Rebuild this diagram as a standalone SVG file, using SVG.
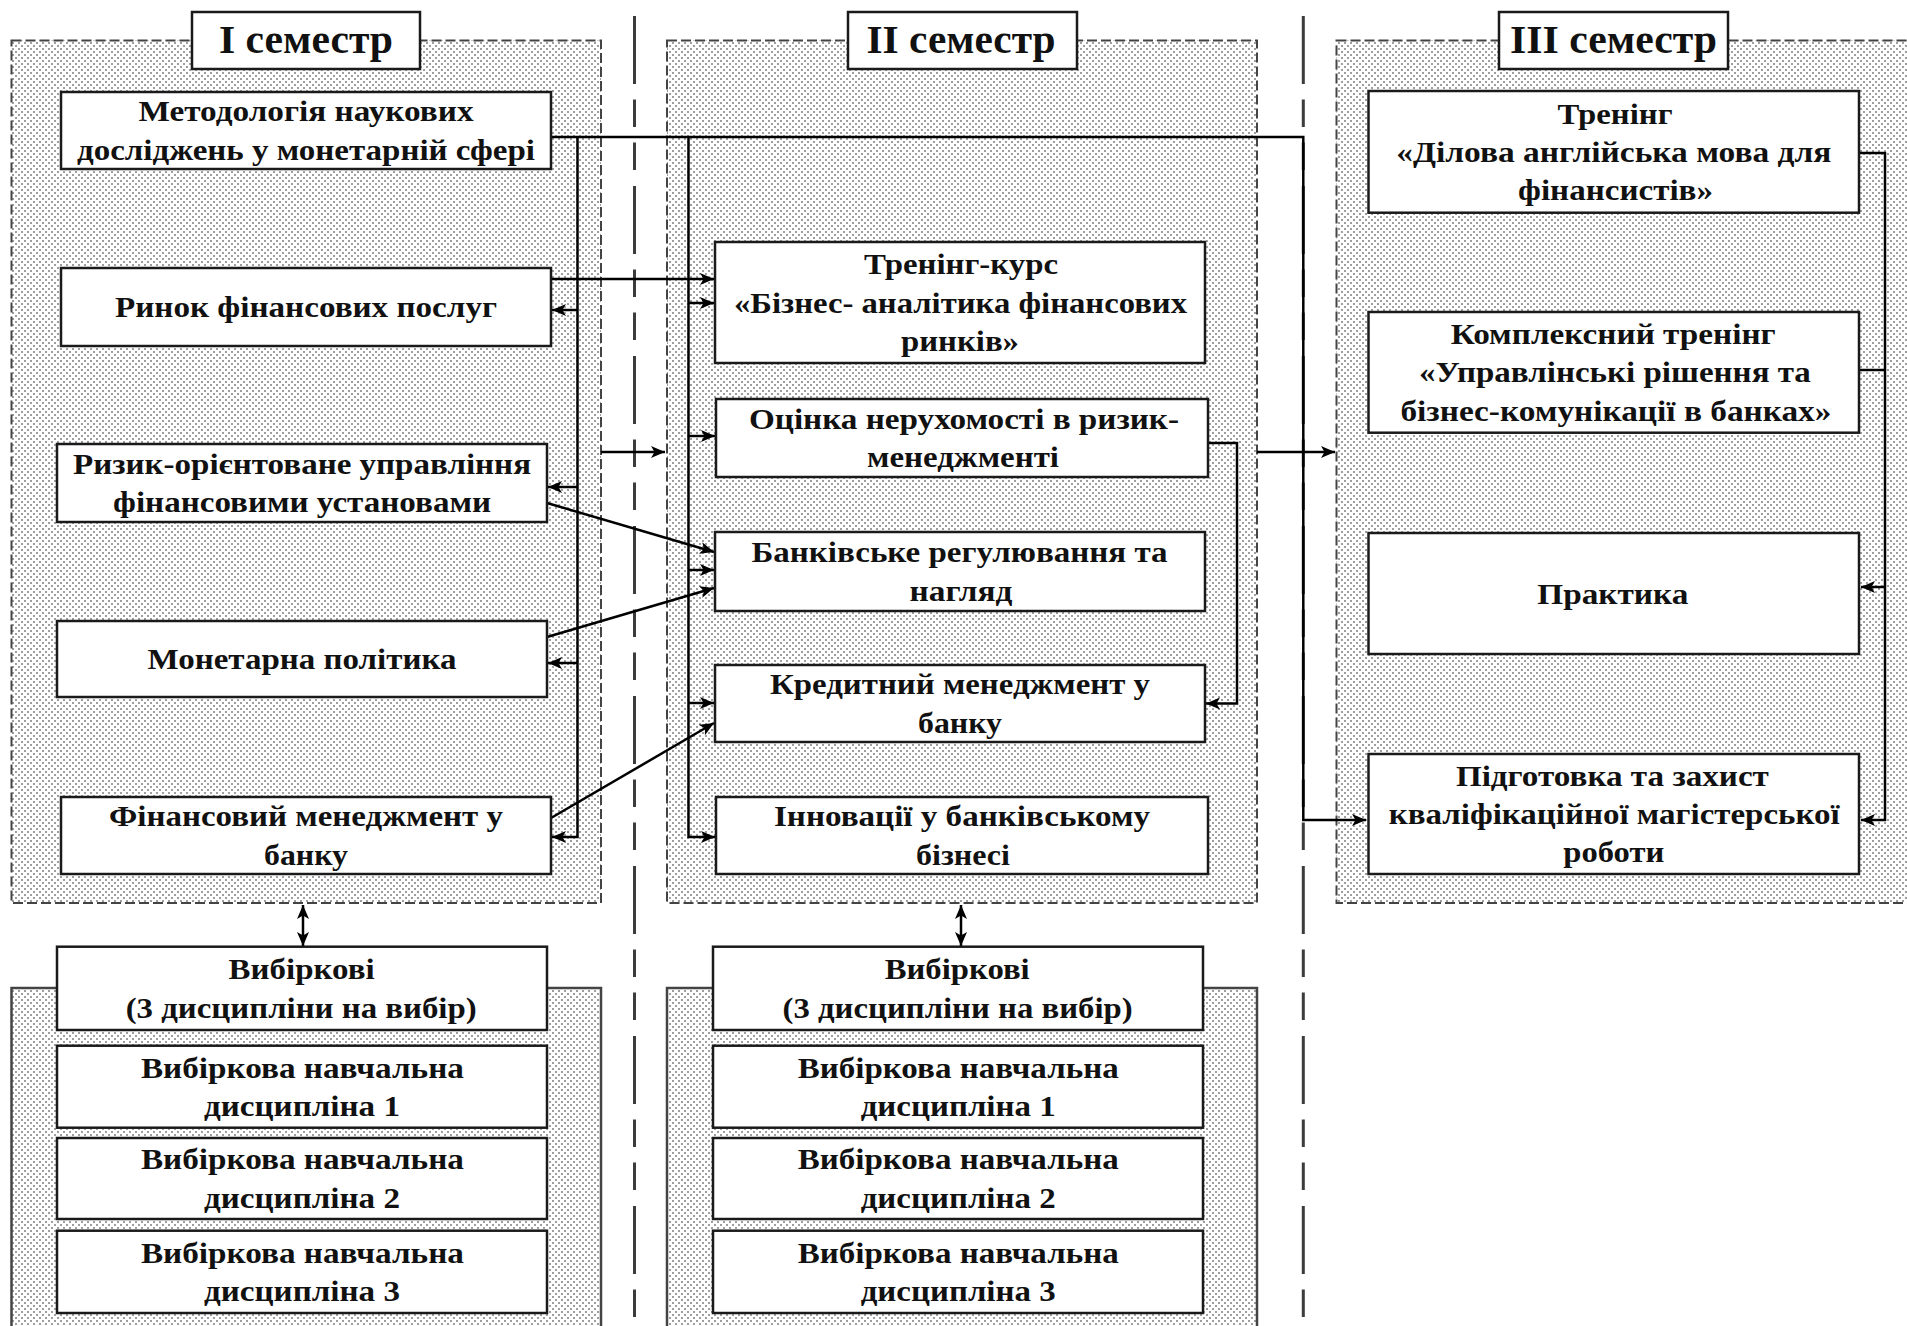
<svg xmlns="http://www.w3.org/2000/svg" width="1907" height="1326" viewBox="0 0 1907 1326">
<defs>
<pattern id="dots" width="6" height="6" patternUnits="userSpaceOnUse">
<rect width="6" height="6" fill="#fff"/>
<rect x="0.2" y="0.2" width="1.6" height="1.6" fill="#6a6a6a"/>
<rect x="3.2" y="3.2" width="1.6" height="1.6" fill="#6a6a6a"/>
</pattern>
<marker id="ah" markerUnits="userSpaceOnUse" markerWidth="16" markerHeight="14" refX="14" refY="6" orient="auto-start-reverse">
<path d="M0,0 L14,6 L0,12 L3.5,6 Z" fill="#000"/>
</marker>
<style>
.panel{fill:url(#dots);stroke:#444;stroke-width:2;stroke-dasharray:10 4}
.psolid{fill:url(#dots);stroke:#444;stroke-width:2.5}
.box{fill:#fff;stroke:#1a1a1a;stroke-width:2.5}
.t{font-family:'Liberation Serif','Times New Roman',serif;font-weight:bold;font-size:30px;fill:#111;text-anchor:middle}
.title{font-size:41px}
.sep{stroke:#3c3c3c;stroke-width:3;stroke-dasharray:68 15.5 27.5 15.5 27.5 16;fill:none}
.c{stroke:#000;stroke-width:2.5;fill:none;marker-end:url(#ah)}
.ln{stroke:#000;stroke-width:2.5;fill:none}
.dbl{stroke:#000;stroke-width:2.5;fill:none;marker-start:url(#ah);marker-end:url(#ah)}
</style>
</defs>
<rect width="1907" height="1326" fill="#fff"/>

<g id="panels">
<rect class="panel" x="11.5" y="40.5" width="589.5" height="862.5"/>
<rect class="panel" x="667" y="40.5" width="590" height="862.5"/>
<rect class="panel" x="1336.5" y="40.5" width="580" height="862.5"/>
<rect class="psolid" x="11.5" y="988" width="589.5" height="350"/>
<rect class="psolid" x="667" y="988" width="590" height="350"/>
</g>

<g id="separators">
<line class="sep" x1="634.5" y1="16" x2="634.5" y2="1326"/>
<line class="sep" x1="1303.3" y1="16" x2="1303.3" y2="1326"/>
</g>

<g id="connectors">
<path class="c" d="M551,137 H1303.3 V820 H1366"/>
<path class="c" d="M577.5,137 V837 H552"/>
<path class="c" d="M577.5,310 H552"/>
<path class="c" d="M577.5,487 H548"/>
<path class="c" d="M577.5,663 H548"/>
<path class="c" d="M688.5,137 V837 H715"/>
<path class="c" d="M688.5,303 H714"/>
<path class="c" d="M688.5,436 H715"/>
<path class="c" d="M688.5,570 H714"/>
<path class="c" d="M688.5,703 H714"/>
<path class="c" d="M551,279 H714"/>
<path class="c" d="M601,452 H665"/>
<path class="c" d="M1257,452 H1335"/>
<path class="c" d="M547,503 L714,552"/>
<path class="c" d="M547,637 L714,588"/>
<path class="c" d="M551,818 L714,723"/>
<path class="c" d="M1207.6,443 H1237 V703.5 H1206"/>
<path class="c" d="M1859,153 H1885 V820 H1861"/>
<path class="ln" d="M1859,370 H1885"/>
<path class="c" d="M1885,587 H1861"/>
<path class="dbl" d="M303,905 V946"/>
<path class="dbl" d="M961,905 V946"/>
</g>

<g id="title1"><rect class="box" x="192" y="12" width="228" height="57"/><text class="t title" x="306" y="53" textLength="174" lengthAdjust="spacingAndGlyphs">I семестр</text></g>
<g id="title2"><rect class="box" x="848" y="12" width="229" height="57"/><text class="t title" x="961" y="53" textLength="189" lengthAdjust="spacingAndGlyphs">II семестр</text></g>
<g id="title3"><rect class="box" x="1499" y="12" width="229" height="57"/><text class="t title" x="1613.5" y="53" textLength="207" lengthAdjust="spacingAndGlyphs">III семестр</text></g>

<g id="metod"><rect class="box" x="61" y="92" width="490" height="77"/>
<text class="t" x="306" y="121.4" textLength="335" lengthAdjust="spacingAndGlyphs">Методологія наукових</text>
<text class="t" x="306" y="159.7" textLength="458" lengthAdjust="spacingAndGlyphs">досліджень у монетарній сфері</text></g>

<g id="rynok"><rect class="box" x="61" y="268" width="490" height="78"/>
<text class="t" x="306" y="317" textLength="382" lengthAdjust="spacingAndGlyphs">Ринок фінансових послуг</text></g>

<g id="ryzyk"><rect class="box" x="57" y="444" width="490" height="78"/>
<text class="t" x="302" y="473.9" textLength="458" lengthAdjust="spacingAndGlyphs">Ризик-орієнтоване управління</text>
<text class="t" x="302" y="512.2" textLength="378" lengthAdjust="spacingAndGlyphs">фінансовими установами</text></g>

<g id="monet"><rect class="box" x="57" y="621" width="490" height="76"/>
<text class="t" x="302" y="669" textLength="309" lengthAdjust="spacingAndGlyphs">Монетарна політика</text></g>

<g id="finman"><rect class="box" x="61" y="797" width="490" height="77"/>
<text class="t" x="306" y="826.4" textLength="394" lengthAdjust="spacingAndGlyphs">Фінансовий менеджмент у</text>
<text class="t" x="306" y="864.7" textLength="84" lengthAdjust="spacingAndGlyphs">банку</text></g>

<g id="trening_kurs"><rect class="box" x="715" y="242" width="490" height="121"/>
<text class="t" x="961" y="274.2" textLength="194" lengthAdjust="spacingAndGlyphs">Тренінг-курс</text>
<text class="t" x="960.5" y="312.5" textLength="453" lengthAdjust="spacingAndGlyphs">«Бізнес- аналітика фінансових</text>
<text class="t" x="960" y="350.8" textLength="118" lengthAdjust="spacingAndGlyphs">ринків»</text></g>

<g id="ocinka"><rect class="box" x="716" y="399" width="492" height="78"/>
<text class="t" x="964" y="428.9" textLength="430" lengthAdjust="spacingAndGlyphs">Оцінка нерухомості в ризик-</text>
<text class="t" x="963" y="467.2" textLength="192" lengthAdjust="spacingAndGlyphs">менеджменті</text></g>

<g id="bankreg"><rect class="box" x="715" y="532" width="490" height="79"/>
<text class="t" x="959.5" y="562.2" textLength="416" lengthAdjust="spacingAndGlyphs">Банківське регулювання та</text>
<text class="t" x="961" y="600.5" textLength="103" lengthAdjust="spacingAndGlyphs">нагляд</text></g>

<g id="kredyt"><rect class="box" x="715" y="665" width="490" height="77"/>
<text class="t" x="960" y="694.4" textLength="380" lengthAdjust="spacingAndGlyphs">Кредитний менеджмент у</text>
<text class="t" x="960" y="732.7" textLength="84" lengthAdjust="spacingAndGlyphs">банку</text></g>

<g id="innov"><rect class="box" x="716" y="797" width="492" height="77"/>
<text class="t" x="962" y="826.4" textLength="376" lengthAdjust="spacingAndGlyphs">Інновації у банківському</text>
<text class="t" x="963" y="864.7" textLength="94" lengthAdjust="spacingAndGlyphs">бізнесі</text></g>

<g id="trening_en"><rect class="box" x="1368.5" y="91" width="490.5" height="121.7"/>
<text class="t" x="1615" y="123.6" textLength="115" lengthAdjust="spacingAndGlyphs">Тренінг</text>
<text class="t" x="1613.8" y="161.9" textLength="435" lengthAdjust="spacingAndGlyphs">«Ділова англійська мова для</text>
<text class="t" x="1615.5" y="200.2" textLength="195" lengthAdjust="spacingAndGlyphs">фінансистів»</text></g>

<g id="kompl"><rect class="box" x="1368.5" y="312" width="490.5" height="120.7"/>
<text class="t" x="1613.2" y="344" textLength="325" lengthAdjust="spacingAndGlyphs">Комплексний тренінг</text>
<text class="t" x="1614.9" y="382.4" textLength="392" lengthAdjust="spacingAndGlyphs">«Управлінські рішення та</text>
<text class="t" x="1615.9" y="420.7" textLength="431" lengthAdjust="spacingAndGlyphs">бізнес-комунікації в банках»</text></g>

<g id="praktyka"><rect class="box" x="1368.5" y="533" width="490.5" height="121"/>
<text class="t" x="1612.8" y="603.5" textLength="151" lengthAdjust="spacingAndGlyphs">Практика</text></g>

<g id="pidgot"><rect class="box" x="1368.5" y="754" width="490.5" height="120"/>
<text class="t" x="1612.4" y="785.7" textLength="313" lengthAdjust="spacingAndGlyphs">Підготовка та захист</text>
<text class="t" x="1614.2" y="824" textLength="451" lengthAdjust="spacingAndGlyphs">кваліфікаційної магістерської</text>
<text class="t" x="1613.8" y="862.3" textLength="101" lengthAdjust="spacingAndGlyphs">роботи</text></g>

<g id="vyb1_head"><rect class="box" x="57" y="946.7" width="490" height="83.3"/>
<text class="t" x="301.6" y="979.2" textLength="146" lengthAdjust="spacingAndGlyphs">Вибіркові</text>
<text class="t" x="301.2" y="1017.5" textLength="351" lengthAdjust="spacingAndGlyphs">(3 дисципліни на вибір)</text></g>
<g id="vyb1_1"><rect class="box" x="57" y="1045.7" width="490" height="82"/>
<text class="t" x="302.4" y="1077.5" textLength="323" lengthAdjust="spacingAndGlyphs">Вибіркова навчальна</text>
<text class="t" x="302" y="1115.9" textLength="196" lengthAdjust="spacingAndGlyphs">дисципліна 1</text></g>
<g id="vyb1_2"><rect class="box" x="57" y="1138" width="490" height="81"/>
<text class="t" x="302.4" y="1169.4" textLength="323" lengthAdjust="spacingAndGlyphs">Вибіркова навчальна</text>
<text class="t" x="302" y="1207.7" textLength="196" lengthAdjust="spacingAndGlyphs">дисципліна 2</text></g>
<g id="vyb1_3"><rect class="box" x="57" y="1230.7" width="490" height="82.3"/>
<text class="t" x="302.4" y="1262.7" textLength="323" lengthAdjust="spacingAndGlyphs">Вибіркова навчальна</text>
<text class="t" x="302" y="1301" textLength="196" lengthAdjust="spacingAndGlyphs">дисципліна 3</text></g>

<g id="vyb2_head"><rect class="box" x="713" y="946.7" width="490" height="83.3"/>
<text class="t" x="957.2" y="979.2" textLength="145" lengthAdjust="spacingAndGlyphs">Вибіркові</text>
<text class="t" x="957.6" y="1017.5" textLength="350" lengthAdjust="spacingAndGlyphs">(3 дисципліни на вибір)</text></g>
<g id="vyb2_1"><rect class="box" x="713" y="1045.7" width="490" height="82"/>
<text class="t" x="958.2" y="1077.5" textLength="321" lengthAdjust="spacingAndGlyphs">Вибіркова навчальна</text>
<text class="t" x="958.2" y="1115.9" textLength="195" lengthAdjust="spacingAndGlyphs">дисципліна 1</text></g>
<g id="vyb2_2"><rect class="box" x="713" y="1138" width="490" height="81"/>
<text class="t" x="958.2" y="1169.4" textLength="321" lengthAdjust="spacingAndGlyphs">Вибіркова навчальна</text>
<text class="t" x="958.2" y="1207.7" textLength="195" lengthAdjust="spacingAndGlyphs">дисципліна 2</text></g>
<g id="vyb2_3"><rect class="box" x="713" y="1230.7" width="490" height="82.3"/>
<text class="t" x="958.2" y="1262.7" textLength="321" lengthAdjust="spacingAndGlyphs">Вибіркова навчальна</text>
<text class="t" x="958.2" y="1301" textLength="195" lengthAdjust="spacingAndGlyphs">дисципліна 3</text></g>
</svg>
